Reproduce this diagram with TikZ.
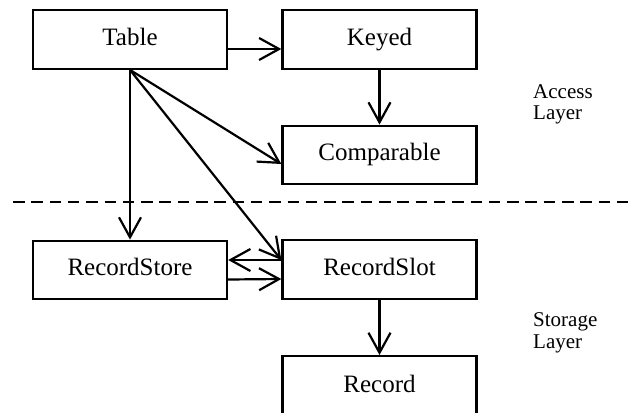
\documentclass[tikz,border=0pt]{standalone}
\usepackage{fontspec}
\setmainfont{Liberation Serif}
\usetikzlibrary{arrows.meta,calc}
\begin{document}
\begin{tikzpicture}[x=1pt,y=-1pt,
  box/.style={draw, line width=2.3pt, minimum width=194pt, minimum height=58.5pt, inner sep=0pt,
    font=\fontsize{25}{30}\selectfont, text height=17pt, text depth=6pt},
  conn/.style={line width=2.2pt, -{Straight Barb[length=20pt,width=22pt]}},
  layerlabel/.style={anchor=base west, align=left, inner sep=0pt, font=\fontsize{21}{21.5}\selectfont},
  sep/.style={line width=2.3pt, dash pattern=on 11.5pt off 6.8pt}]
\useasboundingbox (0,0) rectangle (633,413);
\clip (0,0) rectangle (633,413);
\node[box] (table) at (130,39.5) {Table};
\node[box] (keyed) at (379.5,39.5) {Keyed};
\node[box] (comp) at (379.5,155) {Comparable};
\node[box] (store) at (130,270) {RecordStore};
\node[box] (slot) at (379.5,269.5) {RecordSlot};
\node[box, anchor=north, minimum height=70pt, text depth=15pt] (record) at (379.5,355) {Record};
\node[layerlabel] (access) at (533,119.5) {Access\\Layer};
\node[layerlabel] (storage) at (533,348) {Storage\\Layer};
\coordinate (sepL) at (13,202);
\coordinate (sepR) at (633,202);
\draw[sep] (sepL) -- (sepR);
\draw[conn] ([yshift=-9.5pt]table.east) -- ([yshift=-9.5pt]keyed.west);
\draw[conn] (keyed.south) -- (comp.north);
\draw[conn] (table.south) -- ([yshift=-9pt]comp.west);
\draw[conn] (table.south) -- (store.north);
\draw[conn] (table.south) -- ([yshift=9.5pt]slot.west);
\draw[conn] ([yshift=9.5pt]slot.west) -- ([yshift=10pt]store.east);
\draw[conn] ([yshift=-9.5pt]store.east) -- ([yshift=-9.5pt]slot.west);
\draw[conn] (slot.south) -- (record.north);
\end{tikzpicture}
\end{document}
